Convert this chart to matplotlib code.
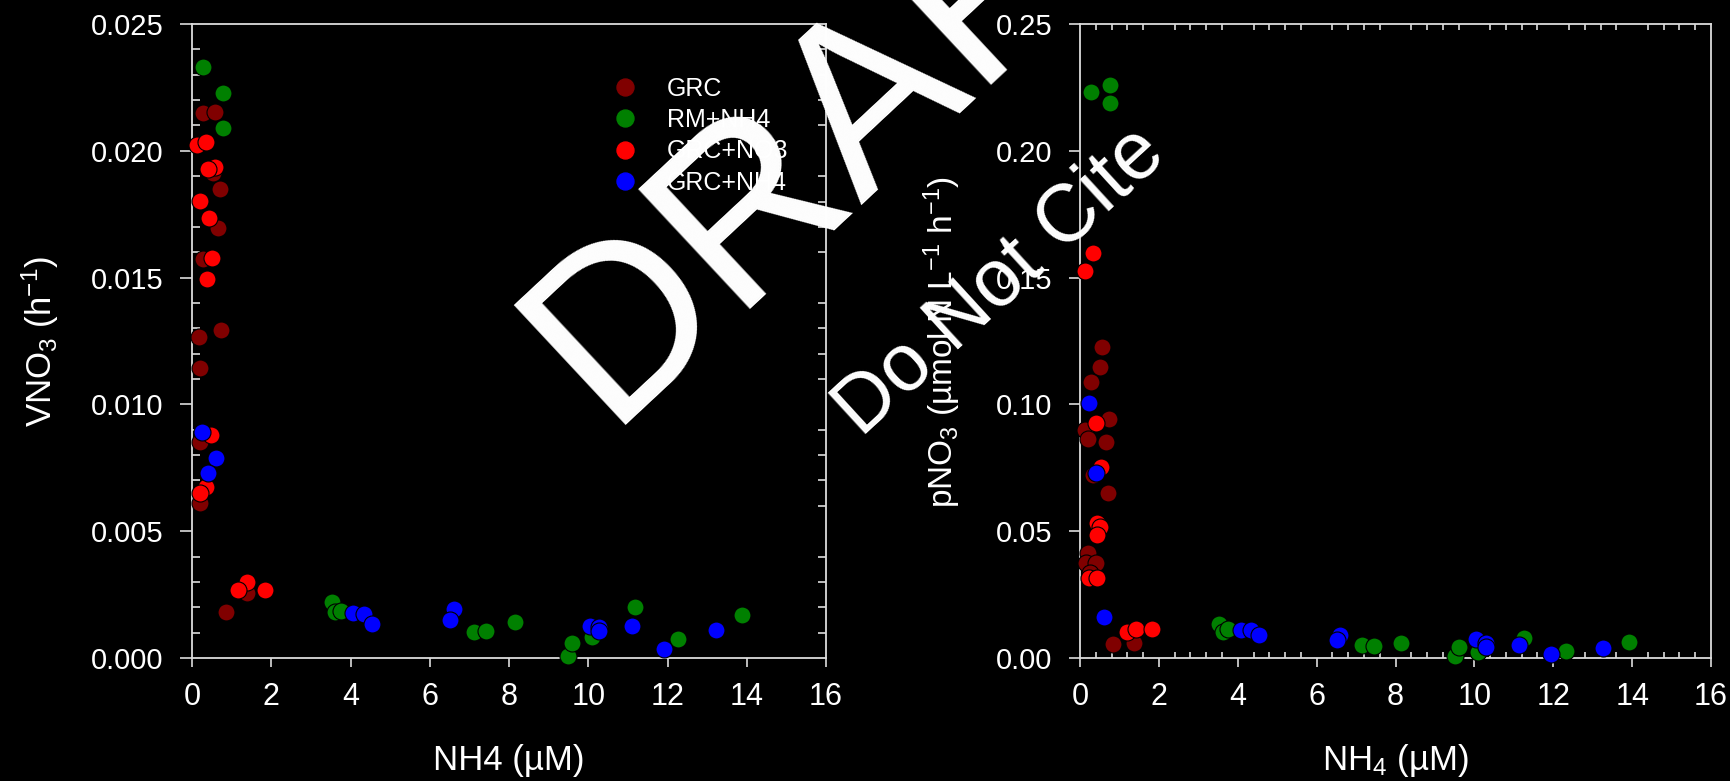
import matplotlib
matplotlib.use('Agg')
import matplotlib.pyplot as plt
from matplotlib.lines import Line2D
from matplotlib.ticker import MultipleLocator, FormatStrFormatter

plt.rcParams['font.family'] = ['Liberation Sans', 'DejaVu Sans']
plt.rcParams['mathtext.fontset'] = 'custom'
plt.rcParams['mathtext.rm'] = 'Liberation Sans'
plt.rcParams['mathtext.it'] = 'Liberation Sans:italic'
plt.rcParams['mathtext.bf'] = 'Liberation Sans:bold'

# ---------------- data ----------------
series_names = ['GRC', 'RM+NH4', 'GRC+NO3', 'GRC+NH4']
series_colors = ['#800000', '#008000', '#ff0000', '#0000ff']

# Left panel: VNO3 (h-1) vs NH4 (uM)
grc_nh4_l = [0.29, 0.57, 0.71, 0.65, 0.52, 0.27, 0.18, 0.74, 0.21, 0.21, 0.20, 0.86, 1.40]
grc_vno3 = [0.02148, 0.02154, 0.01851, 0.01697, 0.01912, 0.01575, 0.01265, 0.01293,
            0.01142, 0.00853, 0.00612, 0.00183, 0.00255]

rm_nh4_l = [0.29, 0.77, 0.78, 3.54, 3.62, 3.76, 7.11, 7.42, 8.14, 9.49, 9.59, 10.10, 11.19, 12.27, 13.88]
rm_vno3 = [0.02332, 0.02227, 0.02089, 0.00220, 0.00180, 0.00185, 0.00104, 0.00108, 0.00142,
           0.00008, 0.00060, 0.00084, 0.00200, 0.00075, 0.00170]

no3_nh4_l = [0.12, 0.35, 0.57, 0.40, 0.20, 0.44, 0.50, 0.37, 0.48, 0.35, 0.20, 1.40, 1.17, 1.85]
no3_vno3 = [0.02023, 0.02036, 0.01937, 0.01927, 0.01802, 0.01736, 0.01576, 0.01493, 0.00879,
            0.00676, 0.00652, 0.00301, 0.00268, 0.00268]

nh4_nh4_l = [0.26, 0.61, 0.40, 4.07, 4.35, 4.54, 6.60, 6.52, 10.04, 10.27, 10.27, 11.11, 11.90, 13.22]
nh4_vno3 = [0.00890, 0.00790, 0.00730, 0.00179, 0.00173, 0.00134, 0.00192, 0.00150, 0.00126,
            0.00124, 0.00108, 0.00126, 0.00034, 0.00110]

# Right panel: pNO3 (umol N L-1 h-1) vs NH4 (uM)
grc_nh4_r = [0.55, 0.51, 0.27, 0.74, 0.13, 0.20, 0.65, 0.34, 0.70, 0.20, 0.16, 0.40, 0.25, 0.83, 1.38]
grc_pno3 = [0.1225, 0.1149, 0.1090, 0.0942, 0.0899, 0.0862, 0.0850, 0.0722, 0.0652, 0.0415,
            0.0376, 0.0373, 0.0335, 0.0055, 0.0058]

rm_nh4_r = [0.29, 0.77, 0.77, 3.53, 3.62, 3.75, 7.14, 7.45, 8.15, 9.50, 9.62, 10.10, 11.25, 12.32, 13.93]
rm_pno3 = [0.2233, 0.2259, 0.2187, 0.0134, 0.0104, 0.0114, 0.0051, 0.0049, 0.0060, 0.0008,
           0.0045, 0.0025, 0.0078, 0.0028, 0.0062]

no3_nh4_r = [0.34, 0.13, 0.40, 0.54, 0.43, 0.51, 0.44, 0.24, 0.44, 1.18, 1.41, 1.83]
no3_pno3 = [0.1598, 0.1527, 0.0925, 0.0754, 0.0531, 0.0518, 0.0485, 0.0314, 0.0314, 0.0101,
            0.0114, 0.0114]

nh4_nh4_r = [0.24, 0.40, 0.60, 4.07, 4.34, 4.54, 6.60, 6.52, 10.04, 10.29, 10.29, 11.14, 11.94, 13.26]
nh4_pno3 = [0.1004, 0.0731, 0.0163, 0.0110, 0.0110, 0.0091, 0.0091, 0.0071, 0.0074, 0.0058,
            0.0045, 0.0051, 0.0016, 0.0038]

left_x_ticks = [0, 2, 4, 6, 8, 10, 12, 14, 16]
left_y_ticks = [0.000, 0.005, 0.010, 0.015, 0.020, 0.025]
right_y_ticks = [0.00, 0.05, 0.10, 0.15, 0.20, 0.25]

# ---------------- figure ----------------
W, H, DPI = 1730, 781, 100
fig = plt.figure(figsize=(W / DPI, H / DPI), dpi=DPI, facecolor='black')

def px_axes(x0, x1, ytop, ybot):
    return fig.add_axes([x0 / W, 1 - ybot / H, (x1 - x0) / W, (ybot - ytop) / H])

axL = px_axes(192, 826, 24, 658)
axR = px_axes(1080, 1711, 24, 658)

SPINE = '#dcdcdc'
MS = 150

def style(ax):
    ax.set_facecolor('black')
    for s in ax.spines.values():
        s.set_color(SPINE)
        s.set_linewidth(1.3)

left_sets = [(grc_nh4_l, grc_vno3), (rm_nh4_l, rm_vno3), (no3_nh4_l, no3_vno3), (nh4_nh4_l, nh4_vno3)]
right_sets = [(grc_nh4_r, grc_pno3), (rm_nh4_r, rm_pno3), (no3_nh4_r, no3_pno3), (nh4_nh4_r, nh4_pno3)]

for ax, sets in ((axL, left_sets), (axR, right_sets)):
    style(ax)
    for (xs, ys), c, name in zip(sets, series_colors, series_names):
        ax.scatter(xs, ys, s=MS, color=c, edgecolors='black', linewidths=0.8,
                   zorder=3, clip_on=False, label=name)

# Left axes ticks
axL.set_xlim(0, 16)
axL.set_ylim(0, 0.025)
axL.set_xticks(left_x_ticks)
axL.set_yticks(left_y_ticks)
axL.yaxis.set_major_formatter(FormatStrFormatter('%.3f'))
axL.yaxis.set_minor_locator(MultipleLocator(0.001))
axL.tick_params(axis='x', which='major', direction='out', length=6.5, width=1.2,
                color=SPINE, labelcolor='white', labelsize=22, pad=10.5, top=False)
axL.tick_params(axis='x', which='minor', bottom=False, top=False)
axL.tick_params(axis='y', which='major', direction='out', length=8.6, width=1.2,
                color=SPINE, labelcolor='white', labelsize=21, pad=12, right=False)
axL.tick_params(axis='y', which='minor', direction='in', length=5.5, width=1.2,
                color=SPINE, left=True, right=True)

# Right axes ticks
axR.set_xlim(0, 16)
axR.set_ylim(0, 0.25)
axR.set_xticks(left_x_ticks)
axR.set_yticks(right_y_ticks)
axR.yaxis.set_major_formatter(FormatStrFormatter('%.2f'))
axR.xaxis.set_minor_locator(MultipleLocator(0.4))
axR.tick_params(axis='x', which='major', direction='out', length=6.5, width=1.2,
                color=SPINE, labelcolor='white', labelsize=22, pad=10.5, top=False)
axR.tick_params(axis='x', which='minor', direction='in', length=4, width=1.2,
                color=SPINE, bottom=True, top=True)
axR.tick_params(axis='y', which='major', direction='out', length=8, width=1.2,
                color=SPINE, labelcolor='white', labelsize=21, pad=12, right=False)
axR.tick_params(axis='y', which='minor', left=False, right=False)

# Axis labels
axL.set_xlabel('NH4 (µM)', fontsize=25, color='white', va='baseline')
axL.xaxis.set_label_coords(0.5, (658 - 770) / 634)
axR.set_xlabel('NH$_4$ (µM)', fontsize=25, color='white', va='baseline')
axR.xaxis.set_label_coords(0.5, (658 - 770) / 634)

axL.set_ylabel('VNO$_3$ (h$^{-1}$)', fontsize=25, color='white', va='baseline')
axL.yaxis.set_label_coords((52 - 192) / 634, 0.5)
axR.set_ylabel('pNO$_3$ (µmol N L$^{-1}$ h$^{-1}$)', fontsize=24, color='white', va='baseline')
axR.yaxis.set_label_coords((953 - 1080) / 631, 0.498)

# Legend (left panel)
handles = [Line2D([], [], ls='', marker='o', markersize=12.2, markerfacecolor=c,
                  markeredgecolor=c) for c in series_colors]
leg = axL.legend(handles, series_names, loc='upper left',
                 bbox_to_anchor=(612 / W, 1 - 76.5 / H), bbox_transform=fig.transFigure,
                 frameon=False, fontsize=18, handlelength=1.0, handletextpad=1.2,
                 borderpad=0, borderaxespad=0, labelspacing=0.30, labelcolor='white')

# Watermarks
fig.text(606 / W, 1 - 425 / H, 'DRAFT', fontsize=170.6, rotation=43, rotation_mode='anchor',
         ha='left', va='baseline', color='white', zorder=10)
fig.text(861 / W, 1 - 438 / H, 'Do Not Cite', fontsize=58, rotation=42.5, rotation_mode='anchor',
         ha='left', va='baseline', color='white', zorder=10)

fig.savefig('out.png', dpi=DPI, facecolor='black')
